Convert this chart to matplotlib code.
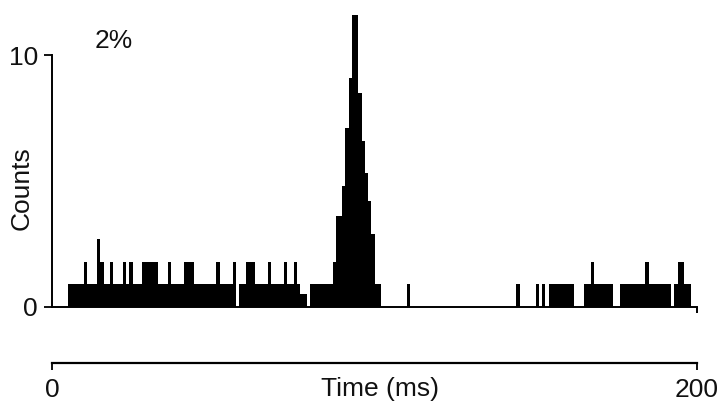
import numpy as np
import matplotlib.pyplot as plt

plt.rcParams['font.family'] = ['Liberation Sans', 'DejaVu Sans']

bin_edges = np.arange(0, 201, 1)

counts_before = [0, 0, 0, 0, 0, 0.9, 0.9, 0.9, 0.9, 0.9,
                 1.8, 0.9, 0.9, 0.9, 2.7, 1.8, 0.9, 0.9, 1.8, 0.9,
                 0.9, 0.9, 1.8, 0.9, 1.8, 0.9, 0.9, 0.9, 1.8, 1.8,
                 1.8, 1.8, 1.8, 0.9, 0.9, 0.9, 1.8, 0.9, 0.9, 0.9,
                 0.9, 1.8, 1.8, 1.8, 0.9, 0.9, 0.9, 0.9, 0.9, 0.9,
                 0.9, 1.8, 0.9, 0.9, 0.9, 0.9, 1.8, 0, 0.9, 0.9,
                 1.8, 1.8, 1.8, 0.9, 0.9, 0.9, 0.9, 1.8, 0.9, 0.9,
                 0.9, 0.9, 1.8, 0.9, 0.9, 1.8, 0.9, 0.5, 0.5, 0,
                 0.9, 0.9, 0.9, 0.9, 0.9, 0.9, 0.9]
counts_peak = [1.8, 3.6, 3.6, 4.8, 7.1, 9.1, 11.6, 11.6, 8.5, 6.6,
               5.3, 4.2, 2.9, 0.9, 0.9]
counts_after = [0, 0, 0, 0, 0, 0, 0, 0, 0.9, 0,
                0, 0, 0, 0, 0, 0, 0, 0, 0, 0,
                0, 0, 0, 0, 0, 0, 0, 0, 0, 0,
                0, 0, 0, 0, 0, 0, 0, 0, 0, 0,
                0, 0, 0.9, 0, 0, 0, 0, 0, 0.9, 0,
                0.9, 0, 0.9, 0.9, 0.9, 0.9, 0.9, 0.9, 0.9, 0.9,
                0, 0, 0, 0.9, 0.9, 1.8, 0.9, 0.9, 0.9, 0.9,
                0.9, 0.9, 0, 0, 0.9, 0.9, 0.9, 0.9, 0.9, 0.9,
                0.9, 0.9, 1.8, 0.9, 0.9, 0.9, 0.9, 0.9, 0.9, 0.9,
                0, 0.9, 1.8, 1.8, 0.9, 0.9, 0, 0]
counts = np.array(counts_before + counts_peak + counts_after)

y_ticks = [0, 10]
x_ticks = [0, 200]
label = '2%'

fs = 19
ink = '#111111'

fig = plt.figure(figsize=(7.24, 4.08), dpi=100)

# eje superior (histograma)
ax = fig.add_axes([52/724, 101/408, 645/724, 302.4/408])
ax.stairs(counts, bin_edges, fill=True, color='black', linewidth=0)
ax.set_xlim(0, 200)
ax.set_ylim(0, 12)
for s in ['top', 'right']:
    ax.spines[s].set_visible(False)
ax.spines['left'].set_bounds(0, 10)
ax.spines['left'].set_linewidth(1.4)
ax.spines['bottom'].set_linewidth(1.4)
ax.set_yticks(y_ticks)
ax.set_yticklabels([str(v) for v in y_ticks])
ax.set_xticks([200])
ax.set_xticklabels([''])
ax.tick_params(axis='y', direction='out', length=6, width=1.4, pad=4,
               labelsize=fs, colors=ink)
ax.tick_params(axis='x', direction='out', length=4, width=1.4)
ax.text(19, 10.55, label, fontsize=fs, ha='center', va='center', color=ink)
fig.text(22/724, 1 - 188/408, 'Counts', rotation=90, fontsize=fs,
         ha='center', va='center', color=ink)

# eje inferior (tiempo)
ax2 = fig.add_axes([52/724, 45/408, 645/724, 0.001])
ax2.set_xlim(0, 200)
for s in ['top', 'right', 'left']:
    ax2.spines[s].set_visible(False)
ax2.spines['bottom'].set_linewidth(1.6)
ax2.set_yticks([])
ax2.set_xticks(x_ticks)
ax2.set_xticklabels([str(v) for v in x_ticks])
ax2.tick_params(axis='x', direction='out', length=5, width=1.4, pad=6,
                labelsize=fs, colors=ink)
fig.text(380/724, 1 - 389/408, 'Time (ms)', fontsize=fs,
         ha='center', va='center', color=ink)

fig.savefig('out.png', dpi=100)
